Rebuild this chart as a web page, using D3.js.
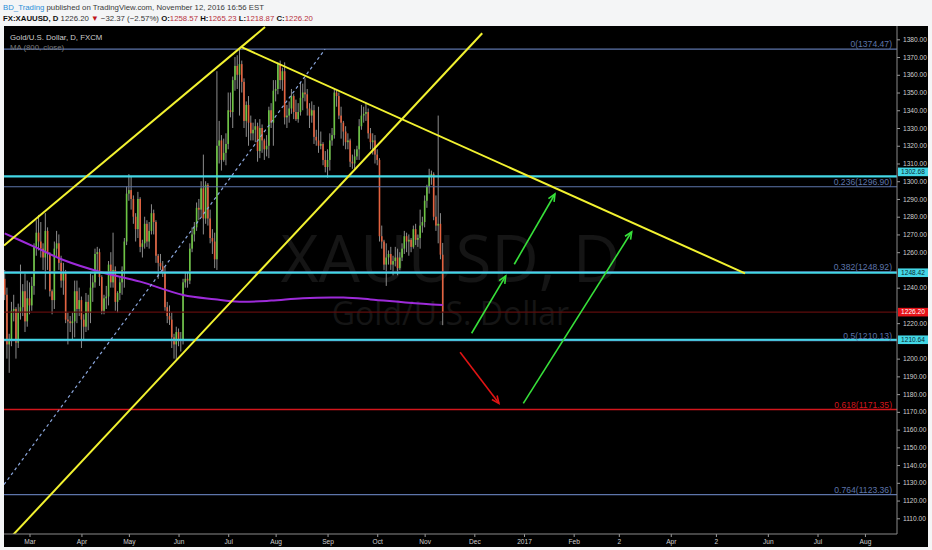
<!DOCTYPE html>
<html>
<head>
<meta charset="utf-8">
<script src="https://d3js.org/d3.v7.min.js"></script>
<style>
  body { margin: 0; background: #f4f5f6; }
  svg { display: block; font-family: "Liberation Sans", Arial, sans-serif; }
</style>
</head>
<body>
<svg id="chart"></svg>
<script>
// XAUUSD daily, FXCM — Feb 15 2016 to Nov 11 2016, one row per weekday: [open, high, low, close]
const feb = [
  [1245, 1250, 1233, 1236], [1236, 1240, 1200, 1208], [1208, 1214, 1192, 1210], [1210, 1232, 1207, 1227],
  [1227, 1236, 1221, 1228], [1228, 1229, 1200, 1209], [1209, 1231, 1206, 1226], [1226, 1253, 1222, 1229],
  [1229, 1242, 1224, 1238], [1238, 1248, 1215, 1221], [1221, 1244, 1218, 1234]
];
const mar = [
  [1234, 1243, 1225, 1230], [1230, 1246, 1227, 1241], [1241, 1265, 1236, 1263], [1263, 1278, 1258, 1271],
  [1271, 1281, 1261, 1266], [1266, 1277, 1257, 1262], [1262, 1265, 1250, 1257], [1257, 1282, 1239, 1272],
  [1272, 1274, 1250, 1259], [1259, 1260, 1235, 1238], [1238, 1239, 1225, 1233], [1233, 1266, 1228, 1262],
  [1262, 1272, 1257, 1265], [1265, 1270, 1250, 1254], [1254, 1258, 1240, 1244], [1244, 1254, 1236, 1248],
  [1248, 1250, 1220, 1222], [1222, 1226, 1208, 1221], [1221, 1224, 1215, 1220], [1220, 1226, 1210, 1221],
  [1221, 1244, 1212, 1238], [1238, 1244, 1220, 1228], [1228, 1240, 1224, 1233]
];
const apr = [
  [1233, 1235, 1206, 1222], [1222, 1225, 1211, 1218], [1218, 1237, 1215, 1232], [1232, 1236, 1216, 1226],
  [1226, 1248, 1220, 1240], [1240, 1247, 1232, 1243], [1243, 1262, 1240, 1259], [1259, 1263, 1249, 1260],
  [1260, 1262, 1241, 1246], [1246, 1247, 1225, 1227], [1227, 1236, 1225, 1234], [1234, 1241, 1228, 1235],
  [1235, 1255, 1230, 1253], [1253, 1260, 1240, 1243], [1243, 1271, 1240, 1250], [1250, 1252, 1227, 1232],
  [1232, 1238, 1226, 1237], [1237, 1246, 1233, 1243], [1243, 1252, 1236, 1250], [1250, 1268, 1240, 1266],
  [1266, 1297, 1264, 1293]
];
const may = [
  [1293, 1304, 1289, 1295], [1295, 1303, 1284, 1290], [1290, 1292, 1276, 1280], [1280, 1282, 1266, 1273],
  [1273, 1294, 1268, 1290], [1290, 1291, 1260, 1263], [1263, 1267, 1257, 1265], [1265, 1280, 1262, 1276],
  [1276, 1278, 1263, 1266], [1266, 1277, 1262, 1272], [1272, 1287, 1270, 1282], [1282, 1284, 1270, 1277],
  [1277, 1278, 1254, 1258], [1258, 1259, 1245, 1254], [1254, 1259, 1250, 1252], [1252, 1255, 1246, 1249],
  [1249, 1252, 1227, 1229], [1229, 1232, 1220, 1224], [1224, 1230, 1219, 1222], [1222, 1226, 1206, 1212],
  [1212, 1214, 1200, 1208], [1208, 1218, 1199, 1215]
];
const jun = [
  [1215, 1217, 1207, 1211], [1211, 1215, 1204, 1210], [1210, 1245, 1208, 1243], [1243, 1249, 1240, 1245],
  [1245, 1249, 1240, 1244], [1244, 1265, 1242, 1262], [1262, 1274, 1260, 1270], [1270, 1277, 1266, 1274],
  [1274, 1288, 1272, 1285], [1285, 1290, 1278, 1284], [1284, 1300, 1280, 1296], [1296, 1315, 1270, 1279],
  [1279, 1300, 1276, 1298], [1298, 1299, 1275, 1279], [1279, 1284, 1265, 1268], [1268, 1273, 1259, 1266],
  [1266, 1271, 1251, 1256], [1256, 1362, 1250, 1320], [1320, 1334, 1310, 1323], [1323, 1326, 1306, 1312],
  [1312, 1324, 1311, 1316], [1316, 1327, 1309, 1321]
];
const jul = [
  [1321, 1350, 1318, 1340], [1340, 1350, 1336, 1339], [1339, 1359, 1330, 1357], [1357, 1370, 1351, 1365],
  [1365, 1371, 1352, 1360], [1360, 1374.5, 1337, 1366], [1366, 1368, 1350, 1356], [1356, 1358, 1330, 1334],
  [1334, 1345, 1325, 1343], [1343, 1348, 1320, 1333], [1333, 1337, 1323, 1327], [1327, 1333, 1323, 1329],
  [1329, 1335, 1322, 1331], [1331, 1333, 1311, 1317], [1317, 1335, 1313, 1330], [1330, 1332, 1316, 1323],
  [1323, 1324, 1312, 1318], [1318, 1326, 1314, 1320], [1320, 1342, 1313, 1340], [1340, 1344, 1330, 1333],
  [1333, 1357, 1320, 1351]
];
const aug = [
  [1351, 1357, 1345, 1352], [1352, 1367, 1349, 1366], [1366, 1368, 1352, 1357], [1357, 1364, 1351, 1362],
  [1362, 1367, 1332, 1336], [1336, 1343, 1330, 1337], [1337, 1345, 1333, 1341], [1341, 1352, 1338, 1348],
  [1348, 1349, 1335, 1339], [1339, 1346, 1334, 1335], [1335, 1344, 1333, 1339], [1339, 1356, 1337, 1347],
  [1347, 1355, 1340, 1350], [1350, 1358, 1345, 1349], [1349, 1352, 1337, 1341], [1341, 1344, 1330, 1337],
  [1337, 1345, 1333, 1340], [1340, 1343, 1321, 1325], [1325, 1329, 1320, 1323], [1323, 1342, 1316, 1320],
  [1320, 1328, 1318, 1321], [1321, 1322, 1309, 1312], [1312, 1317, 1305, 1308]
];
const sep = [
  [1308, 1318, 1302, 1312], [1312, 1327, 1306, 1323], [1323, 1330, 1320, 1326], [1326, 1352, 1324, 1350],
  [1350, 1352, 1342, 1348], [1348, 1350, 1335, 1337], [1337, 1342, 1324, 1333], [1333, 1334, 1320, 1328],
  [1328, 1331, 1318, 1322], [1322, 1327, 1318, 1323], [1323, 1324, 1308, 1311], [1311, 1315, 1307, 1310],
  [1310, 1318, 1307, 1314], [1314, 1320, 1312, 1318], [1318, 1335, 1312, 1331], [1331, 1343, 1329, 1337],
  [1337, 1342, 1333, 1338], [1338, 1344, 1334, 1339], [1339, 1341, 1324, 1327], [1327, 1330, 1318, 1322],
  [1322, 1327, 1315, 1323], [1323, 1326, 1310, 1315]
];
const oct = [
  [1315, 1318, 1309, 1312], [1312, 1313, 1266, 1269], [1269, 1275, 1262, 1266], [1266, 1267, 1250, 1253],
  [1253, 1265, 1241, 1257], [1257, 1261, 1253, 1259], [1259, 1263, 1250, 1253], [1253, 1258, 1247, 1255],
  [1255, 1263, 1252, 1257], [1257, 1262, 1247, 1251], [1251, 1260, 1250, 1257], [1257, 1265, 1255, 1262],
  [1262, 1272, 1259, 1269], [1269, 1271, 1260, 1266], [1266, 1270, 1258, 1267], [1267, 1268, 1260, 1263],
  [1263, 1275, 1262, 1273], [1273, 1276, 1264, 1267], [1267, 1270, 1263, 1268], [1268, 1284, 1262, 1275],
  [1275, 1280, 1271, 1277]
];
const nov = [
  [1277, 1292, 1274, 1289], [1289, 1298, 1285, 1297], [1297, 1307, 1293, 1303], [1303, 1306, 1298, 1304],
  [1304, 1305, 1278, 1280], [1280, 1292, 1272, 1275], [1275, 1337, 1265, 1276], [1276, 1282, 1256, 1258.6],
  [1258.57, 1265.23, 1218.87, 1226.20]
];

// MA(800, close)
const maDates = ["2016-02-15", "2016-03-03", "2016-03-22", "2016-04-13", "2016-05-09", "2016-06-03", "2016-06-23",
  "2016-07-08", "2016-07-28", "2016-08-17", "2016-09-12", "2016-09-28", "2016-10-21", "2016-11-11"];
const maValues = [1270.6, 1263.1, 1255.6, 1249.0, 1243.4, 1235.9, 1233.5, 1232.1, 1232.7, 1234.1, 1234.4, 1233.4, 1231.5, 1230.2];

// Fibonacci retracement levels
const fibRatios = ["0", "0.236", "0.382", "0.5", "0.618", "0.764"];
const fibPrices = [1374.47, 1296.90, 1248.92, 1210.13, 1171.35, 1123.36];

// Horizontal support / resistance lines and the last price
const cyanLevels = [1302.68, 1248.42, 1210.64];
const lastPrice = 1226.20;

// Drawn trend lines: [bar index, price] endpoints (bar 0 = Feb 15 2016)
const yellowLines = [
  [[-0.3, 1263.8], [115.3, 1386.9]],
  [[0, 1095.6], [211.5, 1383.4]],
  [[104.7, 1375.7], [327.9, 1248.1]]
];
const dashedLine = [[-0.3, 1129.0], [141.9, 1374.4]];
const greenArrows = [
  [[206.8, 1214.3], [221.9, 1246.6]],
  [[225.7, 1253.2], [243.7, 1292.8]],
  [[229.7, 1174.8], [277.7, 1271.5]]
];
const redArrows = [[[201.7, 1203.6], [218.9, 1174.8]]];

// Axes
const priceTicks = d3.range(1110, 1381, 10);
const timeTickDates = ["2016-03-01", "2016-04-01", "2016-05-02", "2016-06-01", "2016-07-01", "2016-08-01",
  "2016-09-01", "2016-10-03", "2016-11-01", "2016-12-01", "2017-01-02", "2017-02-01", "2017-03-01",
  "2017-04-03", "2017-05-01", "2017-06-01", "2017-07-03", "2017-08-01"];
const timeTickLabels = ["Mar", "Apr", "May", "Jun", "Jul", "Aug", "Sep", "Oct", "Nov", "Dec", "2017",
  "Feb", "2", "Apr", "2", "Jun", "Jul", "Aug"];

(function () {
  const W = 932, H = 550;
  const P = { left: 4, top: 26, right: 897, bottom: 534 };   // plot area
  const UP = "#6cc443", DOWN = "#e4623f", WICK = "#8c8c8c";
  const FIB = "#5d75aa", FIB_RED = "#d2161c", CYAN = "#43d7e6", YELLOW = "#f2f230";

  const svg = d3.select("#chart").attr("width", W).attr("height", H);

  // weekday calendar used as bar positions
  const fmt = d3.utcFormat("%Y-%m-%d");
  const days = d3.utcDay.range(new Date(Date.UTC(2016, 1, 15)), new Date(Date.UTC(2017, 8, 1)))
    .filter(d => d.getUTCDay() % 6 !== 0);
  const dayIndex = new Map(days.map((d, i) => [fmt(d), i]));

  const x = d3.scaleLinear().domain([-0.3, 395.2]).range([P.left, P.right]);
  const y = d3.scaleLinear().domain([1380, 1110]).range([39.3, 518.3]);

  const bars = [].concat(feb, mar, apr, may, jun, jul, aug, sep, oct, nov)
    .map((b, i) => ({ i, o: b[0], h: b[1], l: b[2], c: b[3] }));

  // header
  const head = svg.append("g").attr("font-size", 7.8);
  const t1 = head.append("text").attr("x", 3).attr("y", 9.5);
  t1.append("tspan").attr("fill", "#2b8fd8").text("BD_Trading");
  t1.append("tspan").attr("fill", "#3a3a3a").text(" published on TradingView.com, November 12, 2016 16:56 EST");
  const t2 = head.append("text").attr("x", 3).attr("y", 20.5).attr("fill", "#333");
  const red = "#b8303c";
  t2.append("tspan").attr("font-weight", 700).attr("fill", "#111").text("FX:XAUUSD, D");
  t2.append("tspan").text(" 1226.20 ");
  t2.append("tspan").attr("fill", "#c0141c").text("▼");
  t2.append("tspan").text(" −32.37 (−2.57%) ");
  [["O:", "1258.57"], ["H:", "1265.23"], ["L:", "1218.87"], ["C:", "1226.20"]].forEach(([k, v], i) => {
    t2.append("tspan").attr("font-weight", 700).attr("fill", "#111").text((i ? " " : "") + k);
    t2.append("tspan").attr("fill", red).text(v);
  });

  // black chart panel
  svg.append("rect").attr("x", P.left).attr("y", P.top).attr("width", 928 - P.left).attr("height", 547 - P.top)
    .attr("fill", "#000");

  svg.append("clipPath").attr("id", "plot")
    .append("rect").attr("x", P.left).attr("y", P.top)
    .attr("width", P.right - P.left).attr("height", P.bottom - P.top);

  const g = svg.append("g").attr("clip-path", "url(#plot)");

  // watermark
  const cx = (P.left + P.right) / 2;
  g.append("text").attr("x", cx).attr("y", 282).attr("text-anchor", "middle")
    .attr("font-family", "'Open Sans', sans-serif").attr("font-size", 65.5).attr("fill", "#151515")
    .text("XAUUSD, D");
  g.append("text").attr("x", cx).attr("y", 325).attr("text-anchor", "middle")
    .attr("font-family", "'Open Sans', sans-serif").attr("font-size", 32).attr("fill", "#151515")
    .text("Gold/U.S. Dollar");

  // candles
  g.append("g").selectAll("line").data(bars).join("line")
    .attr("x1", d => x(d.i)).attr("x2", d => x(d.i))
    .attr("y1", d => y(d.h)).attr("y2", d => y(d.l))
    .attr("stroke", WICK).attr("stroke-width", 1);
  g.append("g").selectAll("rect").data(bars).join("rect")
    .attr("x", d => x(d.i) - 0.8).attr("width", 1.6)
    .attr("y", d => y(Math.max(d.o, d.c)))
    .attr("height", d => Math.max(1, Math.abs(y(d.o) - y(d.c))))
    .attr("fill", d => d.c >= d.o ? UP : DOWN);

  // MA 800
  const maLine = d3.line().curve(d3.curveCatmullRom)
    .x((d, i) => x(dayIndex.get(maDates[i]))).y(d => y(d));
  g.append("path").attr("d", maLine(maValues))
    .attr("fill", "none").attr("stroke", "#9d2bd9").attr("stroke-width", 2);

  // fib levels
  fibPrices.forEach((p, i) => {
    const col = fibRatios[i] === "0.618" ? FIB_RED : FIB;
    g.append("line").attr("x1", P.left).attr("x2", P.right).attr("y1", y(p)).attr("y2", y(p))
      .attr("stroke", col).attr("stroke-width", fibRatios[i] === "0.618" ? 1.6 : 1.1);
  });

  // last price line
  g.append("line").attr("x1", P.left).attr("x2", P.right).attr("y1", y(lastPrice)).attr("y2", y(lastPrice))
    .attr("stroke", "#5e0d0d").attr("stroke-width", 1.2);

  // cyan levels
  cyanLevels.forEach(p => {
    g.append("line").attr("x1", P.left).attr("x2", P.right).attr("y1", y(p)).attr("y2", y(p))
      .attr("stroke", CYAN).attr("stroke-width", 2.2);
  });

  const pt = d => [x(d[0]), y(d[1])];

  // dashed channel midline
  g.append("line")
    .attr("x1", pt(dashedLine[0])[0]).attr("y1", pt(dashedLine[0])[1])
    .attr("x2", pt(dashedLine[1])[0]).attr("y2", pt(dashedLine[1])[1])
    .attr("stroke", "#8aa6dc").attr("stroke-width", 1.2).attr("stroke-dasharray", "3 3");

  // yellow trend lines
  yellowLines.forEach(([a, b]) => {
    g.append("line")
      .attr("x1", pt(a)[0]).attr("y1", pt(a)[1]).attr("x2", pt(b)[0]).attr("y2", pt(b)[1])
      .attr("stroke", YELLOW).attr("stroke-width", 2);
  });

  // arrows
  function arrow(a, b, col) {
    const [x0, y0] = pt(a), [x1, y1] = pt(b);
    const ang = Math.atan2(y1 - y0, x1 - x0), len = 8, sp = 0.42;
    g.append("line").attr("x1", x0).attr("y1", y0).attr("x2", x1).attr("y2", y1)
      .attr("stroke", col).attr("stroke-width", 1.6);
    g.append("path")
      .attr("d", `M${x1 - len * Math.cos(ang - sp)},${y1 - len * Math.sin(ang - sp)}L${x1},${y1}` +
        `L${x1 - len * Math.cos(ang + sp)},${y1 - len * Math.sin(ang + sp)}`)
      .attr("fill", "none").attr("stroke", col).attr("stroke-width", 1.6);
  }
  greenArrows.forEach(([a, b]) => arrow(a, b, "#37e03a"));
  redArrows.forEach(([a, b]) => arrow(a, b, "#e01414"));

  // fib labels
  fibPrices.forEach((p, i) => {
    svg.append("text").attr("x", 892).attr("y", y(p) - 1.8).attr("text-anchor", "end")
      .attr("font-size", 8.6).attr("fill", fibRatios[i] === "0.618" ? FIB_RED : FIB)
      .text(`${fibRatios[i]}(${p.toFixed(2)})`);
  });

  // chart titles
  svg.append("text").attr("x", 10).attr("y", 39.5).attr("font-size", 7.8).attr("fill", "#cfcfcf")
    .text("Gold/U.S. Dollar, D, FXCM");
  svg.append("text").attr("x", 10).attr("y", 49.5).attr("font-size", 7.8).attr("fill", "#7c7c7c")
    .text("MA (800, close)");

  // price tags sit on the axis; the 1302.68 tag is nudged up so the 1300 label stays readable
  const tags = cyanLevels.map(p => ({ p, bg: CYAN, fg: "#0b2a30" }))
    .concat([{ p: lastPrice, bg: "#e8141a", fg: "#ffffff" }]);
  tags.forEach(t => { t.cy = y(t.p) - (t.p === cyanLevels[0] ? 4.6 : 0); });

  // price axis (labels under a tag are hidden, as on the reference)
  const hidden = v => tags.some(t => Math.abs(y(v) - t.cy) < 7);
  const yAxis = svg.append("g").attr("transform", `translate(${P.right},0)`)
    .call(d3.axisRight(y).tickValues(priceTicks.filter(v => !hidden(v)))
      .tickFormat(d3.format(".2f")).tickSize(3).tickPadding(3));
  yAxis.select(".domain").remove();
  yAxis.selectAll("line").attr("stroke", "#9a9a9a");
  yAxis.selectAll("text").attr("font-size", 6.6).attr("fill", "#cfcfcf")
    .attr("font-family", "'Liberation Sans', Arial, sans-serif");

  // time axis
  const xAxis = svg.append("g").attr("transform", `translate(0,${P.bottom})`)
    .call(d3.axisBottom(x).tickValues(timeTickDates.map(d => dayIndex.get(d)))
      .tickFormat((d, i) => timeTickLabels[i]).tickSize(3).tickPadding(2));
  xAxis.select(".domain").remove();
  xAxis.selectAll("line").attr("stroke", "#9a9a9a");
  xAxis.selectAll("text").attr("font-size", 6.6).attr("fill", "#cfcfcf")
    .attr("font-family", "'Liberation Sans', Arial, sans-serif");

  // axis frame lines
  svg.append("line").attr("x1", P.right).attr("x2", P.right).attr("y1", P.top).attr("y2", P.bottom)
    .attr("stroke", "#8a8a8a");
  svg.append("line").attr("x1", P.left).attr("x2", P.right).attr("y1", P.bottom).attr("y2", P.bottom)
    .attr("stroke", "#8a8a8a");

  tags.forEach(t => {
    svg.append("rect").attr("x", P.right + 1).attr("y", t.cy - 4.3).attr("width", 30).attr("height", 8.6)
      .attr("fill", t.bg);
    svg.append("text").attr("x", P.right + 16).attr("y", t.cy).attr("dy", "0.35em")
      .attr("text-anchor", "middle").attr("font-size", 6.6).attr("fill", t.fg).text(t.p.toFixed(2));
  });
})();
</script>
</body>
</html>
